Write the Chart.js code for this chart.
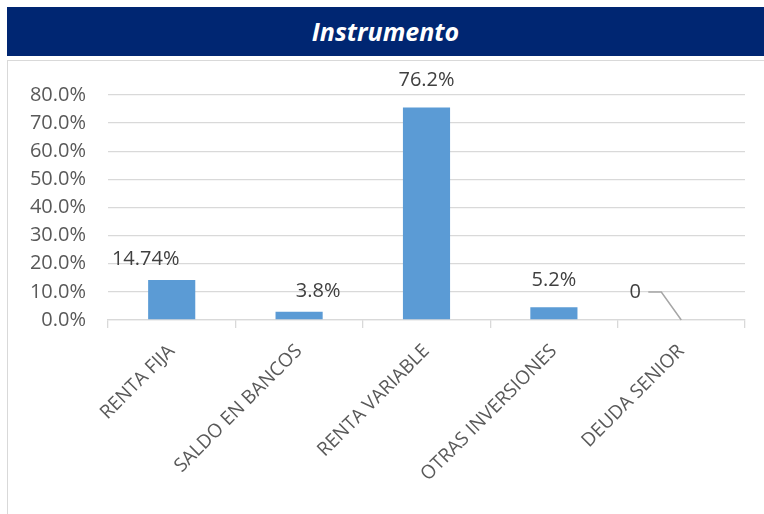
<!DOCTYPE html>
<html>
<head>
<meta charset="utf-8">
<script src="https://cdn.jsdelivr.net/npm/chart.js@4"></script>
<style>
  body { margin: 0; background: #fff; width: 764px; height: 514px; overflow: hidden; position: relative; }
  #header {
    position: absolute; left: 7px; top: 7px; width: 757px; height: 49px;
    background: #002672; color: #fff; text-align: center;
    font: italic bold 25px "Open Sans", sans-serif; line-height: 49px;
  }
  #box {
    position: absolute; left: 7px; top: 60px; width: 757px; height: 454px;
    border: 1px solid #d9d9d9; border-right: none; border-bottom: none; box-sizing: border-box;
  }
  #box canvas { display: block; }
</style>
</head>
<body>
<div id="header">Instrumento</div>
<div id="box"><canvas id="chart" width="756" height="453"></canvas></div>
<script>
// ===== Datos =====
const categories = ['RENTA FIJA', 'SALDO EN BANCOS', 'RENTA VARIABLE', 'OTRAS INVERSIONES', 'DEUDA SENIOR'];
const values = [14.2, 2.9, 75.6, 4.5, 0];
const valueLabels = ['14.74%', '3.8%', '76.2%', '5.2%', '0'];
const yTicks = [0, 10, 20, 30, 40, 50, 60, 70, 80];

// Etiquetas de datos (posición tipo Excel)
const labelPlugin = {
    id: 'valueLabels',
    afterDatasetsDraw(chart) {
        const ctx = chart.ctx;
        const meta = chart.getDatasetMeta(0);
        const shifts = [[-26, -21], [19, -21], [0, -27], [0, -27], [0, 0]];
        ctx.save();
        ctx.font = '20px "Open Sans", sans-serif';
        ctx.fillStyle = '#404040';
        ctx.textAlign = 'center';
        ctx.textBaseline = 'middle';
        meta.data.forEach((bar, i) => {
            if (i === 4) {
                // etiqueta 0 con línea guía
                const bx = bar.x, by = bar.y;
                ctx.fillText(valueLabels[i], bx - 46, by - 28);
                ctx.strokeStyle = '#a6a6a6';
                ctx.lineWidth = 1.5;
                ctx.beginPath();
                ctx.moveTo(bx - 33, by - 28);
                ctx.lineTo(bx - 20, by - 28);
                ctx.lineTo(bx, by);
                ctx.stroke();
                return;
            }
            ctx.fillText(valueLabels[i], bar.x + shifts[i][0], bar.y + shifts[i][1]);
        });
        ctx.restore();
    }
};

new Chart(document.getElementById('chart'), {
    type: 'bar',
    data: {
        labels: categories,
        datasets: [{
            data: values,
            backgroundColor: '#5b9bd5',
            categoryPercentage: 1,
            barPercentage: 0.37
        }]
    },
    options: {
        responsive: false,
        animation: false,
        layout: { padding: { top: 30, right: 19 } },
        plugins: { legend: { display: false }, tooltip: { enabled: false } },
        scales: {
            y: {
                min: 0, max: 80,
                afterBuildTicks: s => { s.ticks = yTicks.map(v => ({ value: v })); },
                afterFit: s => { s.width = 100; },
                border: { display: false },
                grid: { color: '#d9d9d9', lineWidth: 1.3, drawTicks: false },
                ticks: {
                    padding: 22,
                    color: '#595959',
                    font: { family: 'Open Sans', size: 20 },
                    callback: v => v.toFixed(1) + '%'
                }
            },
            x: {
                offset: true,
                afterFit: s => { s.height = 194; },
                border: { display: true, color: '#d9d9d9', width: 1.3 },
                grid: { offset: true, drawOnChartArea: false, color: '#d9d9d9', tickLength: 8, lineWidth: 1.3 },
                ticks: {
                    minRotation: 45, maxRotation: 45,
                    padding: 12,
                    labelOffset: 0,
                    color: '#595959',
                    font: { family: 'Open Sans', size: 19 }
                }
            }
        }
    },
    plugins: [labelPlugin]
});
</script>
</body>
</html>
